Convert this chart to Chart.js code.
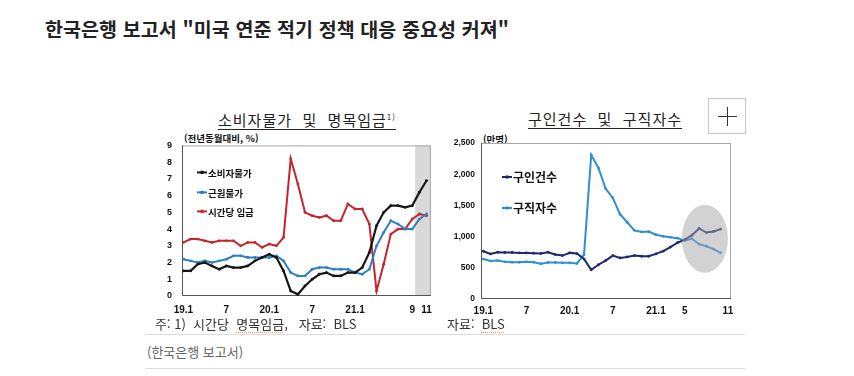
<!DOCTYPE html>
<html lang="ko">
<head>
<meta charset="utf-8">
<script src="https://cdn.jsdelivr.net/npm/chart.js@4.4.1/dist/chart.umd.min.js"></script>
<style>
  html, body { margin: 0; padding: 0; background: #fff; }
  body { width: 854px; height: 376px; position: relative; overflow: hidden; font-family: "Noto Sans CJK KR", "Noto Sans", sans-serif; }
  .abs { position: absolute; white-space: pre; }
  #headline { left: 45px; top: 14px; font-size: 19.5px; font-weight: 700; color: #222; letter-spacing: 0.1px; }
  .ptitle { font-size: 15px; color: #222; text-decoration: underline; text-underline-offset: 3px; text-decoration-thickness: 1px; letter-spacing: 1px; }
  .unit { font-size: 9.5px; font-weight: 700; color: #111; }
  .note { font-size: 13px; color: #333; }
  .sq { text-decoration: underline dotted #e8a060; text-underline-offset: 3px; }
  .hr { position: absolute; left: 145px; width: 600px; height: 1px; background: #dcdcdc; }
  #caption { left: 147px; top: 342px; font-size: 13px; color: #666; }
  #plus { left: 708px; top: 98px; width: 36px; height: 34px; border: 1px solid #c8c8c8; background: #fff; }
  #plus:before, #plus:after { content: ""; position: absolute; background: #333; }
  #plus:before { left: 9px; top: 17px; width: 19px; height: 1px; }
  #plus:after { left: 18px; top: 8px; width: 1px; height: 19px; }
  canvas { position: absolute; }
</style>
</head>
<body>
<div id="headline" class="abs">한국은행 보고서 "미국 연준 적기 정책 대응 중요성 커져"</div>

<div class="abs ptitle" style="left:218px; top:109px;">소비자물가  및  명목임금<sup style="font-size:8px;">1)</sup></div>
<div class="abs ptitle" style="left:528px; top:108px;">구인건수  및  구직자수</div>
<div id="plus" class="abs"></div>

<div class="abs unit" style="left:184px; top:131px;">(전년동월대비, %)</div>
<div class="abs unit" style="left:483px; top:132px;">(만명)</div>

<canvas id="leftChart" style="left:140px; top:130px;" width="300" height="190"></canvas>
<canvas id="rightChart" style="left:440px; top:130px;" width="300" height="190"></canvas>

<div class="abs note" style="left:155px; top:314px;">주: 1)  시간당  <span class="sq">명목임금</span>,   자료:  BLS</div>
<div class="abs note" style="left:447px; top:314px;">자료:  <span class="sq">BLS</span></div>

<div class="hr" style="top:334px;"></div>
<div id="caption" class="abs">(한국은행 보고서)</div>
<div class="hr" style="top:368px;"></div>

<script>
// months 2019.1 ~ 2021.11
const months = ['19.1','19.2','19.3','19.4','19.5','19.6','19.7','19.8','19.9','19.10','19.11','19.12',
  '20.1','20.2','20.3','20.4','20.5','20.6','20.7','20.8','20.9','20.10','20.11','20.12',
  '21.1','21.2','21.3','21.4','21.5','21.6','21.7','21.8','21.9','21.10','21.11'];

// left panel: 전년동월대비 %
const cpi  = [1.5, 1.5, 1.9, 2.0, 1.8, 1.6, 1.8, 1.7, 1.7, 1.8, 2.1, 2.3,
              2.5, 2.3, 1.5, 0.3, 0.1, 0.6, 1.0, 1.3, 1.4, 1.2, 1.2, 1.4,
              1.4, 1.7, 2.6, 4.2, 5.0, 5.4, 5.4, 5.3, 5.4, 6.2, 6.9];
const core = [2.2, 2.1, 2.0, 2.1, 2.0, 2.1, 2.2, 2.4, 2.4, 2.3, 2.3, 2.3,
              2.3, 2.4, 2.1, 1.4, 1.2, 1.2, 1.6, 1.7, 1.7, 1.6, 1.6, 1.6,
              1.4, 1.3, 1.6, 3.0, 3.8, 4.5, 4.3, 4.0, 4.0, 4.6, 4.9];
const wage = [3.2, 3.4, 3.4, 3.3, 3.2, 3.3, 3.3, 3.3, 3.0, 3.2, 3.2, 2.9,
              3.1, 3.0, 3.5, 8.2, 6.7, 5.0, 4.8, 4.7, 4.8, 4.5, 4.5, 5.5,
              5.2, 5.2, 4.3, 0.3, 1.9, 3.7, 4.0, 4.0, 4.6, 4.9, 4.8];

// right panel: 만명 (ends 21.10)
const openings = [766, 723, 750, 745, 745, 739, 739, 734, 728, 750, 712, 696,
                  739, 728, 640, 467, 549, 614, 696, 658, 674, 696, 685, 685,
                  723, 766, 832, 902, 950, 1022, 1130, 1065, 1082, 1120];
const seekers  = [640, 610, 615, 595, 590, 590, 595, 590, 565, 585, 585, 580,
                  580, 570, 710, 2310, 2100, 1770, 1620, 1360, 1230, 1100, 1075, 1080,
                  1030, 1005, 990, 975, 940, 965, 880, 845, 800, 740];

const leftTickPos  = [0, 6, 12, 18, 24, 32, 34];
const leftTickText = ['19.1', '7', '20.1', '7', '21.1', '9', '11'];
const rightTickPos  = [0, 6, 12, 18, 24, 28, 34];
const rightTickText = ['19.1', '7', '20.1', '7', '21.1', '5', '11'];

const toXY = arr => arr.map((v, i) => ({ x: i, y: v }));
const numFont = { family: '"Liberation Sans", Arial, sans-serif', weight: 'bold' };

const frame = {
  id: 'frame',
  beforeDatasetsDraw(chart, args, opts) {
    const { ctx, chartArea: a, scales } = chart;
    ctx.save();
    if (opts.shadeFrom != null) {
      const x0 = scales.x.getPixelForValue(opts.shadeFrom);
      ctx.fillStyle = '#d9d9d9';
      ctx.fillRect(x0, a.top, a.right - x0, a.bottom - a.top);
    }
    ctx.strokeStyle = '#a8a8a8';
    ctx.lineWidth = 1;
    ctx.strokeRect(a.left + 0.5, a.top + 0.5, a.right - a.left - 1, a.bottom - a.top - 1);
    ctx.strokeStyle = '#555';
    ctx.beginPath();
    ctx.moveTo(a.left + 0.5, a.top);
    ctx.lineTo(a.left + 0.5, a.bottom - 0.5);
    ctx.lineTo(a.right, a.bottom - 0.5);
    ctx.stroke();
    ctx.restore();
  },
  afterDatasetsDraw(chart, args, opts) {
    const { ctx, chartArea: a, scales } = chart;
    ctx.save();
    if (opts.ellipse) {
      const e = opts.ellipse;
      const x0 = scales.x.getPixelForValue(e.x0), x1 = scales.x.getPixelForValue(e.x1);
      const y0 = scales.y.getPixelForValue(e.y0), y1 = scales.y.getPixelForValue(e.y1);
      ctx.fillStyle = 'rgba(165,165,165,0.5)';
      ctx.beginPath();
      ctx.ellipse((x0 + x1) / 2, (y0 + y1) / 2, Math.abs(x1 - x0) / 2, Math.abs(y1 - y0) / 2, 0, 0, Math.PI * 2);
      ctx.fill();
    }
    // legend inside the plot
    ctx.font = 'bold ' + opts.legendSize + 'px "Noto Sans CJK KR", sans-serif';
    ctx.textBaseline = 'middle';
    chart.data.datasets.forEach((ds, i) => {
      const lx = a.left + opts.legendX, ly = a.top + opts.legendY[i];
      ctx.strokeStyle = ds.borderColor;
      ctx.fillStyle = ds.borderColor;
      ctx.lineWidth = 2;
      ctx.beginPath();
      ctx.moveTo(lx, ly);
      ctx.lineTo(lx + 10, ly);
      ctx.stroke();
      ctx.beginPath();
      ctx.arc(lx + 5, ly, 1.8, 0, Math.PI * 2);
      ctx.fill();
      ctx.fillStyle = '#111';
      ctx.fillText(ds.label, lx + 11, ly + 0.5);
    });
    ctx.restore();
  }
};

function lineSet(label, data, color, width) {
  return { label, data: toXY(data), borderColor: color, backgroundColor: color, borderWidth: width,
           pointRadius: 1.4, pointHoverRadius: 1.4, pointBackgroundColor: color, pointBorderWidth: 0, tension: 0 };
}

function xAxis(min, max, pos, text, h, pad) {
  return {
    type: 'linear', min, max,
    afterBuildTicks: s => { s.ticks = pos.map(v => ({ value: v })); },
    afterFit: s => { s.height = h; },
    grid: { display: false, drawTicks: false }, border: { display: false },
    ticks: { autoSkip: false, maxRotation: 0, padding: pad, color: '#111',
             font: Object.assign({ size: 10 }, numFont), callback: (v, i) => text[i] }
  };
}

new Chart(document.getElementById('leftChart'), {
  type: 'line',
  data: { datasets: [
    lineSet('소비자물가', cpi, '#161616', 2.2),
    lineSet('근원물가', core, '#2b7fc3', 2),
    lineSet('시간당 임금', wage, '#c3262c', 2)
  ] },
  options: {
    responsive: false, animation: false, events: [],
    layout: { padding: { top: 15, right: 7, left: 0, bottom: 0 } },
    scales: {
      x: xAxis(-0.2, 34.6, leftTickPos, leftTickText, 24, 8),
      y: { min: 0, max: 9, afterFit: s => { s.width = 42; },
           afterBuildTicks: s => { s.ticks = [0,1,2,3,4,5,6,7,8,9].map(v => ({ value: v })); },
           grid: { display: false, drawTicks: false }, border: { display: false },
           ticks: { padding: 10, color: '#111', font: Object.assign({ size: 9 }, numFont) } }
    },
    plugins: { legend: { display: false }, tooltip: { enabled: false },
      frame: { shadeFrom: 32.4, legendX: 15, legendY: [27, 47, 66], legendSize: 9.5 } }
  },
  plugins: [frame]
});

new Chart(document.getElementById('rightChart'), {
  type: 'line',
  data: { datasets: [
    lineSet('구인건수', openings, '#1c2a68', 2),
    lineSet('구직자수', seekers, '#2f8fd5', 2)
  ] },
  options: {
    responsive: false, animation: false, events: [],
    layout: { padding: { top: 13, right: 9, left: 0, bottom: 0 } },
    scales: {
      x: xAxis(-0.32, 34.43, rightTickPos, rightTickText, 21, 6),
      y: { min: 0, max: 2500, afterFit: s => { s.width = 41; },
           afterBuildTicks: s => { s.ticks = [0,500,1000,1500,2000,2500].map(v => ({ value: v })); },
           grid: { display: false, drawTicks: false }, border: { display: false },
           ticks: { padding: 6, color: '#111', font: Object.assign({ size: 8.5 }, numFont),
                    callback: v => v.toLocaleString('en-US') } }
    },
    plugins: { legend: { display: false }, tooltip: { enabled: false },
      frame: { ellipse: { x0: 27.6, x1: 34.0, y0: 420, y1: 1510 }, legendX: 21, legendY: [34, 65], legendSize: 12 } }
  },
  plugins: [frame]
});
</script>
</body>
</html>
